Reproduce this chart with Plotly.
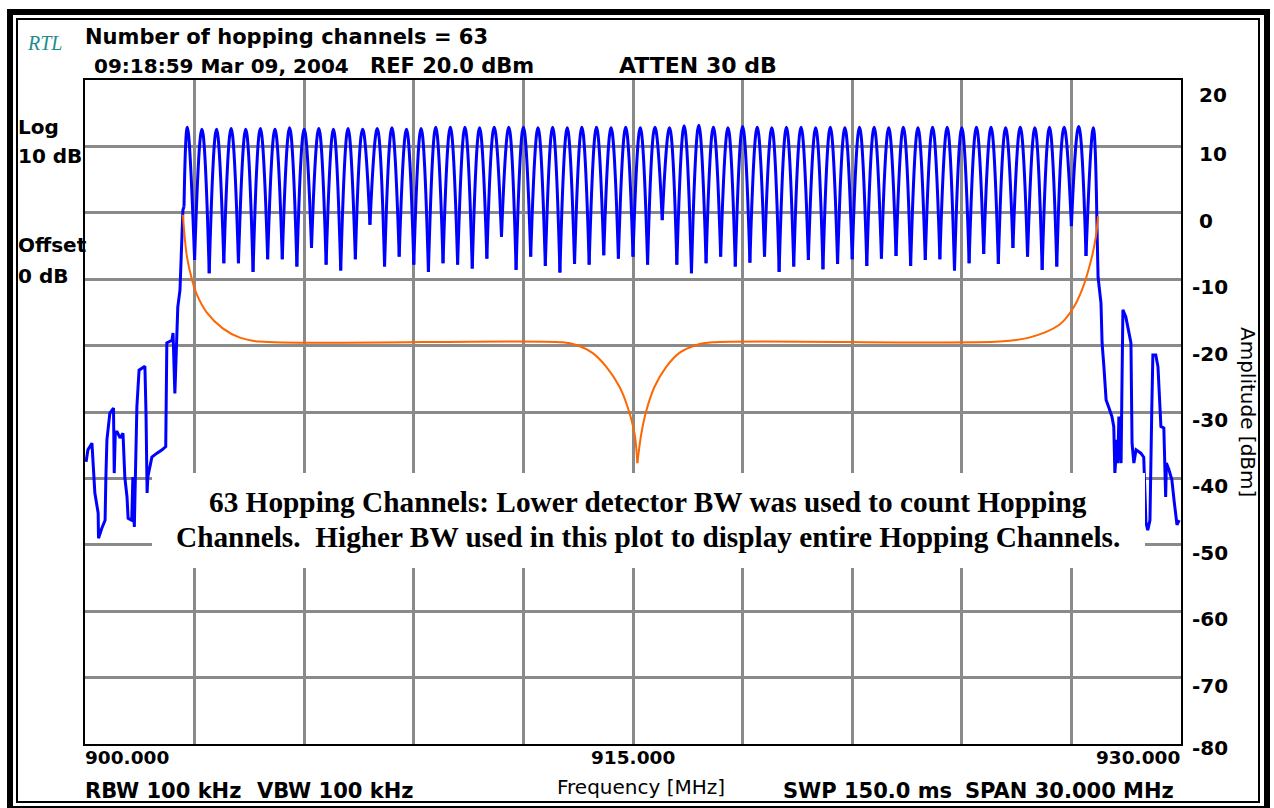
import plotly.graph_objects as go

# ---- Spectrum analyzer trace: 63 hopping channels, 900-930 MHz ----
channel_mhz = [902.8, 903.2, 903.6, 904.0, 904.4, 904.8, 905.2, 905.6, 906.0, 906.4,
               906.8, 907.2, 907.6, 908.0, 908.4, 908.8, 909.2, 909.6, 910.0, 910.4,
               910.8, 911.2, 911.6, 912.0, 912.4, 912.8, 913.2, 913.6, 914.0, 914.4,
               914.8, 915.2, 915.6, 916.0, 916.4, 916.8, 917.2, 917.6, 918.0, 918.4,
               918.8, 919.2, 919.6, 920.0, 920.4, 920.8, 921.2, 921.6, 922.0, 922.4,
               922.8, 923.2, 923.6, 924.0, 924.4, 924.8, 925.2, 925.6, 926.0, 926.4,
               926.8, 927.2, 927.6]
peak_dbm = [12.9, 12.6, 12.6, 12.7, 12.6, 12.7, 12.6, 12.8, 12.6, 12.7,
            12.6, 12.7, 12.6, 12.7, 12.8, 12.6, 12.7, 12.9, 12.9, 12.9,
            12.8, 12.9, 12.9, 12.9, 12.8, 12.9, 12.8, 12.9, 12.9, 12.8,
            12.9, 12.8, 12.9, 12.8, 13.1, 13.2, 12.9, 12.8, 13.0, 12.9,
            12.8, 12.9, 12.9, 12.8, 12.9, 12.8, 12.9, 12.9, 12.8, 12.9,
            12.8, 12.9, 12.9, 12.8, 12.9, 12.9, 12.8, 12.9, 12.8, 12.9,
            12.9, 13.0, 12.8]
# minima between neighbouring channels
trough_mhz = [903.0, 903.4, 903.8, 904.2, 904.6, 905.0, 905.4, 905.8, 906.2, 906.6,
              907.0, 907.4, 907.8, 908.2, 908.6, 909.0, 909.4, 909.8, 910.2, 910.6,
              911.0, 911.4, 911.8, 912.2, 912.6, 913.0, 913.4, 913.8, 914.2, 914.6,
              915.0, 915.4, 915.8, 916.2, 916.6, 917.0, 917.4, 917.8, 918.2, 918.6,
              919.0, 919.4, 919.8, 920.2, 920.6, 921.0, 921.4, 921.8, 922.2, 922.6,
              923.0, 923.4, 923.8, 924.2, 924.6, 925.0, 925.4, 925.8, 926.2, 926.6,
              927.0, 927.4]
trough_dbm = [-7.1, -9.1, -7.6, -7.6, -8.9, -7.0, -7.0, -8.1, -5.3, -7.8,
              -8.7, -7.0, -1.8, -8.1, -6.6, -7.8, -8.9, -7.6, -7.8, -8.4,
              -6.9, -3.6, -8.6, -6.6, -8.0, -9.0, -7.7, -7.8, -6.4, -6.9,
              -6.6, -7.8, -1.1, -7.8, -9.1, -7.6, -6.6, -8.1, -7.5, -6.6,
              -8.9, -8.1, -7.1, -8.5, -7.7, -7.0, -8.0, -6.9, -6.5, -8.0,
              -7.1, -7.0, -8.7, -7.6, -6.2, -7.7, -5.3, -6.6, -8.6, -8.1,
              -2.0, -6.5]

# out-of-band skirts below and above the hopping band
low_skirt_mhz = [900.03, 900.08, 900.19, 900.22, 900.27, 900.36, 900.37, 900.46, 900.55, 900.57,
                 900.60, 900.68, 900.78, 900.80, 900.83, 900.88, 900.96, 901.04, 901.09, 901.15,
                 901.18, 901.28, 901.31, 901.35, 901.42, 901.48, 901.64, 901.67, 901.70, 901.72,
                 901.83, 901.97, 902.11, 902.21, 902.24, 902.38, 902.41, 902.46, 902.50, 902.54,
                 902.60, 902.63, 902.66, 902.68, 902.71]
low_skirt_dbm = [-37.5, -35.7, -34.7, -38.3, -42.2, -45.2, -49.0, -47.5, -46.3, -40.2,
                 -34.2, -30.2, -29.4, -39.2, -33.0, -33.0, -33.9, -33.2, -39.8, -42.8,
                 -46.0, -46.3, -39.8, -47.3, -29.2, -23.7, -23.1, -30.2, -42.2, -39.8,
                 -36.8, -36.2, -35.7, -35.2, -19.6, -19.2, -18.1, -27.2, -19.2, -14.2,
                 -11.6, -7.6, -3.1, 0.4, 0.9]
high_skirt_mhz = [927.70, 927.73, 927.81, 927.84, 927.89, 927.95, 928.03, 928.11, 928.16, 928.19,
                  928.25, 928.27, 928.30, 928.36, 928.38, 928.41, 928.49, 928.58, 928.63, 928.66,
                  928.71, 928.77, 928.90, 928.98, 929.01, 929.04, 929.09, 929.15, 929.20, 929.23,
                  929.31, 929.37, 929.45, 929.53, 929.58, 929.60, 929.67, 929.75, 929.81, 929.86,
                  929.89, 929.95]
high_skirt_dbm = [-1.9, -9.7, -13.6, -19.6, -23.2, -28.2, -29.4, -30.7, -32.2, -39.2,
                  -34.2, -37.7, -30.7, -37.7, -27.7, -14.6, -15.7, -18.1, -19.6, -34.7,
                  -37.7, -35.7, -36.2, -36.8, -40.7, -46.6, -47.8, -46.3, -29.7, -21.4,
                  -21.4, -23.2, -32.2, -32.4, -42.8, -37.7, -38.7, -40.2, -43.3, -45.8,
                  -47.0, -46.3]

# orange reference curve (cusp at index 15)
mask_mhz = [902.68, 902.79, 902.93, 903.06, 903.33, 903.77, 904.24, 904.79,
            913.07, 913.45, 913.89, 914.27, 914.63, 914.85, 915.04, 915.12,
            915.23, 915.37, 915.59, 915.91, 916.27, 916.74, 917.17,
            925.02, 925.84, 926.66, 927.02, 927.29, 927.54, 927.67, 927.73]
mask_dbm = [-0.3, -6.6, -10.1, -12.3, -15.0, -17.4, -18.8, -19.4,
            -19.5, -19.9, -21.1, -23.2, -26.2, -29.2, -33.2, -37.7,
            -33.2, -29.7, -26.2, -23.2, -21.1, -19.9, -19.5,
            -19.4, -18.8, -16.9, -14.6, -11.6, -7.1, -3.6, -0.5]
mask_cusp = 15

y_ticks = [20, 10, 0, -10, -20, -30, -40, -50, -60, -70, -80]
x_ticks = [900, 915, 930]
x_tick_text = ["900.000", "915.000", "930.000"]

BLUE = "#0000ff"
ORANGE = "#ff6600"
GRID = "#8a8a8a"
SANS_B = "DejaVu Sans"
TRACE_W = 3

fig = go.Figure()

fig.add_trace(go.Scatter(x=low_skirt_mhz, y=low_skirt_dbm, mode="lines",
                         line=dict(color=BLUE, width=TRACE_W), hoverinfo="skip"))

# one smoothed arch per channel so the minima stay sharp
for i, (fc, pk) in enumerate(zip(channel_mhz, peak_dbm)):
    if i == 0:
        x0, y0 = low_skirt_mhz[-1], low_skirt_dbm[-1]
    else:
        x0, y0 = trough_mhz[i - 1], trough_dbm[i - 1]
    if i == len(channel_mhz) - 1:
        x1, y1 = high_skirt_mhz[0], high_skirt_dbm[0]
    else:
        x1, y1 = trough_mhz[i], trough_dbm[i]
    fig.add_trace(go.Scatter(x=[x0, fc, x1], y=[y0, pk, y1], mode="lines",
                             line=dict(color=BLUE, width=TRACE_W, shape="spline", smoothing=1.3),
                             hoverinfo="skip"))

fig.add_trace(go.Scatter(x=high_skirt_mhz, y=high_skirt_dbm, mode="lines",
                         line=dict(color=BLUE, width=TRACE_W), hoverinfo="skip"))

fig.add_trace(go.Scatter(x=mask_mhz[:mask_cusp + 1], y=mask_dbm[:mask_cusp + 1], mode="lines",
                         line=dict(color=ORANGE, width=2, shape="spline", smoothing=1.0),
                         hoverinfo="skip"))
fig.add_trace(go.Scatter(x=mask_mhz[mask_cusp:], y=mask_dbm[mask_cusp:], mode="lines",
                         line=dict(color=ORANGE, width=2, shape="spline", smoothing=1.0),
                         hoverinfo="skip"))

L, R, T, B = 85, 1181, 80, 744


def px(x):
    return (x - L) / (R - L)


def py(y):
    return (B - y) / (B - T)


def label(text, x, y, size=20, anchor="left", bold=True, color="black", family=SANS_B, **kw):
    if bold:
        text = "<b>" + text + "</b>"
    if anchor == "left":
        x -= 3
    fig.add_annotation(text=text, x=px(x), y=py(y), xref="paper", yref="paper",
                       xanchor=anchor, yanchor="middle", showarrow=False,
                       font=dict(family=family, size=size, color=color), **kw)


# header and footer texts
label("Number of hopping channels = 63", 86, 37, size=21)
label("09:18:59 Mar 09, 2004", 95, 66)
label("REF 20.0 dBm", 371, 66, size=21)
label("ATTEN 30 dB", 620, 66, size=22)
label("RBW 100 kHz", 86, 791, size=21)
label("VBW 100 kHz", 258, 791, size=21)
label("SWP 150.0 ms", 784, 791, size=21)
label("SPAN 30.000 MHz", 966, 791, size=21)
label("Frequency [MHz]", 641, 787, anchor="center", bold=False)
label("Log", 19, 127)
label("10 dB", 19, 156)
label("Offset", 19, 245)
label("0 dB", 19, 276)
label("<i>RTL</i>", 44, 43, size=20, anchor="center", bold=False, color="#1f8c8c",
      family="Liberation Serif")
label("Amplitude [dBm]", 1248, 412, anchor="center", bold=False, textangle=90)

# amplitude scale on the right
for v in y_ticks:
    shift = -8
    if v == y_ticks[0]:
        shift = -15
    elif v == y_ticks[-1]:
        shift = -4
    fig.add_annotation(text="<b>%d</b>" % v, x=px(1197 if v >= 0 else 1190), y=v,
                       xref="paper", yref="y", xanchor="left", yanchor="middle",
                       yshift=shift, showarrow=False,
                       font=dict(family=SANS_B, size=20, color="black"))

# frequency scale
for v, t, a in zip(x_ticks, x_tick_text, ["left", "center", "right"]):
    fig.add_annotation(text="<b>" + t + "</b>", x=v, y=py(757), xref="x", yref="paper",
                       xanchor=a, yanchor="middle", xshift=-2 if a == "left" else (1 if a == "right" else 0),
                       showarrow=False, font=dict(family=SANS_B, size=18.5, color="black"))

# caption box over the plot
fig.add_shape(type="rect", xref="paper", yref="paper", x0=px(152), x1=px(1145),
              y0=py(568), y1=py(473), fillcolor="white", line=dict(width=0), layer="above")
label("63 Hopping Channels: Lower detector BW was used to count Hopping", 648, 502,
      size=29.3, anchor="center", family="Liberation Serif")
label("Channels.\u00a0\u00a0Higher BW used in this plot to display entire Hopping Channels.",
      648, 537, size=29.3, anchor="center", family="Liberation Serif")

# double frame around the screen
fig.add_shape(type="rect", xref="paper", yref="paper", x0=px(10), x1=px(1267),
              y0=py(809), y1=py(12), line=dict(color="black", width=6), layer="above")
fig.add_shape(type="rect", xref="paper", yref="paper", x0=px(17), x1=px(1259),
              y0=py(802), y1=py(19), line=dict(color="black", width=2), layer="above")

axis_common = dict(showgrid=True, gridcolor=GRID, gridwidth=2.5, zeroline=False,
                   showline=True, mirror=True, linecolor="black", linewidth=2,
                   showticklabels=False, ticks="", fixedrange=True)
fig.update_xaxes(range=[900, 930], tick0=900, dtick=3, **axis_common)
fig.update_yaxes(range=[-80, 20], tick0=-80, dtick=10, **axis_common)

fig.update_layout(width=1274, height=808, showlegend=False,
                  margin=dict(l=L, r=1274 - R, t=T, b=808 - B, pad=0),
                  paper_bgcolor="white", plot_bgcolor="white")

fig.write_html("out.html")
